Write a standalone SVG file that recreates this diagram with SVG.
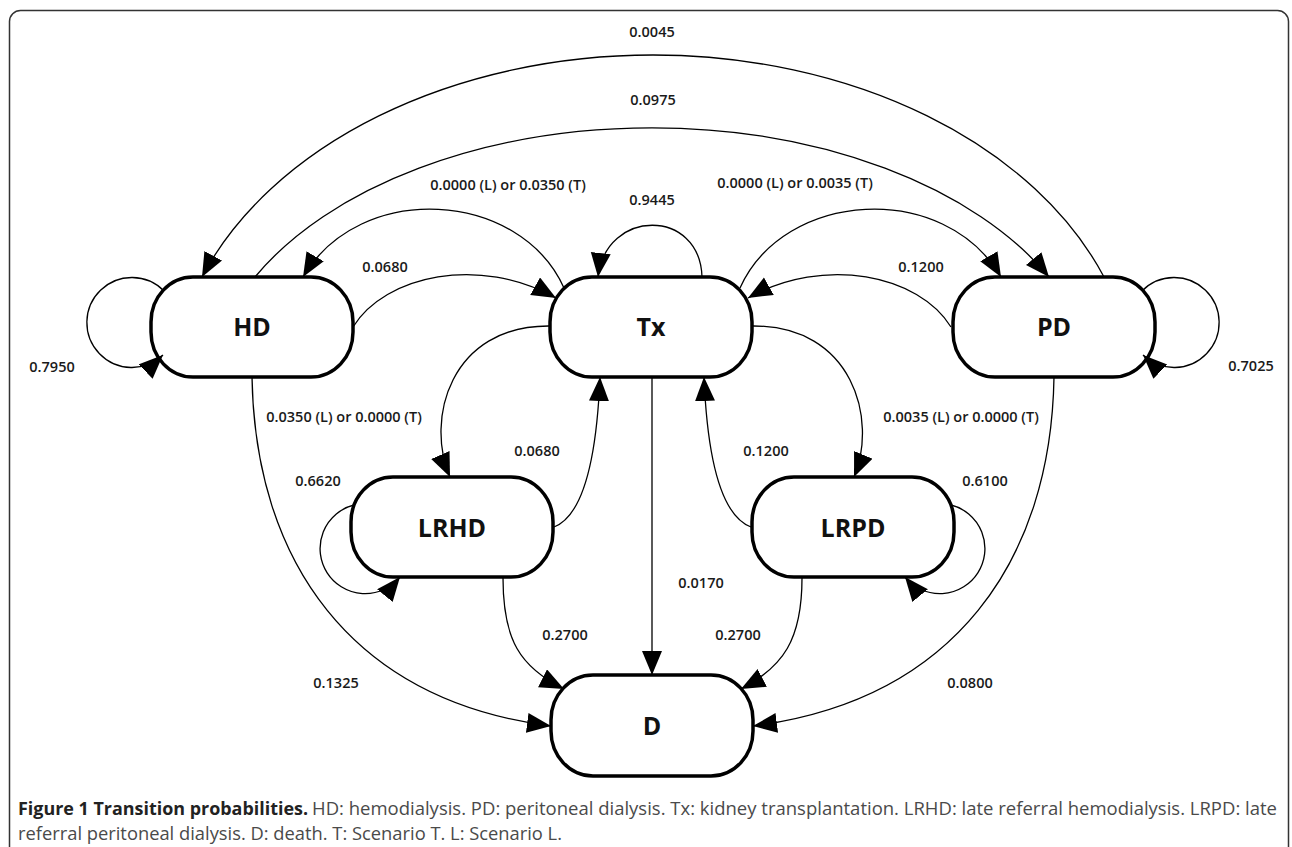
<svg xmlns="http://www.w3.org/2000/svg" width="1292" height="847" viewBox="0 0 1292 847">
<defs>
<marker id="ah" markerUnits="userSpaceOnUse" markerWidth="26" markerHeight="22" refX="24" refY="10" orient="auto"><path d="M0,0 L24,10 L0,20 z" fill="#000"/></marker>
</defs>
<style>
.node rect{fill:#fff;stroke:#000;stroke-width:3.5}
.node text{font-family:"Open Sans","Liberation Sans",sans-serif;font-weight:bold;font-size:25px;text-anchor:middle;fill:#111}
.edge{fill:none;stroke:#000;stroke-width:1.3;marker-end:url(#ah)}
.lbl{font-family:"Open Sans","Liberation Sans",sans-serif;font-size:14.5px;font-weight:600;text-anchor:middle;fill:#1a1a1a}
.cap{font-family:"Open Sans","Liberation Sans",sans-serif;font-size:17.5px;fill:#4a4a4a}
.capb{font-weight:bold;fill:#222}
</style>
<rect x="9.5" y="10.5" width="1279" height="900" rx="11" fill="#fff" stroke="#333" stroke-width="1.5"/>

<g id="nodes">
<g id="HD" class="node"><rect x="151" y="277" width="202" height="100" rx="42" ry="45"/><text x="252" y="336">HD</text></g>
<g id="Tx" class="node"><rect x="550" y="277" width="202" height="100" rx="42" ry="45"/><text x="651" y="336">Tx</text></g>
<g id="PD" class="node"><rect x="953" y="277" width="202" height="100" rx="42" ry="45"/><text x="1054" y="336">PD</text></g>
<g id="LRHD" class="node"><rect x="351" y="477" width="202" height="100" rx="42" ry="45"/><text x="452" y="536.5">LRHD</text></g>
<g id="LRPD" class="node"><rect x="752" y="477" width="202" height="100" rx="42" ry="45"/><text x="853" y="536.5">LRPD</text></g>
<g id="D" class="node"><rect x="551" y="675" width="202" height="101" rx="42" ry="45"/><text x="652" y="734.5">D</text></g>
</g>

<g id="connectors">
<path class="edge" d="M1104,277 A482 343 0 0 0 202,277"/>
<path class="edge" d="M255,277 A445 272 0 0 1 1049,277"/>
<path class="edge" d="M564,288 C520,190 360,180 303,277"/>
<path class="edge" d="M353,327 C385,275 480,255 556,298"/>
<path class="edge" d="M702,277 C700,208 606,208 598,277"/>
<path class="edge" d="M740,288 C784,190 944,180 1001,277"/>
<path class="edge" d="M951,327 C919,275 824,255 748,298"/>
<path class="edge" d="M164,291 A45 45 0 1 0 163,355"/>
<path class="edge" d="M1142,291 A45 45 0 1 1 1143,355"/>
<path class="edge" d="M550,326 C450,325 425,420 450,477"/>
<path class="edge" d="M554,527 C585,515 597,450 600,377"/>
<path class="edge" d="M752,326 C853,325 878,420 854,477"/>
<path class="edge" d="M751,527 C719,515 707,450 704,377"/>
<path class="edge" d="M354,505 A45 45 0 1 0 400,577"/>
<path class="edge" d="M951,505 A45 45 0 1 1 905,577"/>
<path class="edge" d="M652,377 L652,675"/>
<path class="edge" d="M503,578 C503,640 520,667 564,689"/>
<path class="edge" d="M802,578 C802,640 783,667 741,689"/>
<path class="edge" d="M252,377 C255,560 350,700 551,726"/>
<path class="edge" d="M1054,377 C1051,560 955,700 753,726"/>
</g>

<g id="labels">
<text class="lbl" x="652" y="37">0.0045</text>
<text class="lbl" x="653" y="105">0.0975</text>
<text class="lbl" x="508" y="190">0.0000 (L) or 0.0350 (T)</text>
<text class="lbl" x="795" y="188">0.0000 (L) or 0.0035 (T)</text>
<text class="lbl" x="652" y="205">0.9445</text>
<text class="lbl" x="385" y="272">0.0680</text>
<text class="lbl" x="921" y="272">0.1200</text>
<text class="lbl" x="52" y="372">0.7950</text>
<text class="lbl" x="1251" y="371">0.7025</text>
<text class="lbl" x="344" y="422">0.0350 (L) or 0.0000 (T)</text>
<text class="lbl" x="961" y="422">0.0035 (L) or 0.0000 (T)</text>
<text class="lbl" x="537" y="456">0.0680</text>
<text class="lbl" x="766" y="456">0.1200</text>
<text class="lbl" x="318" y="486">0.6620</text>
<text class="lbl" x="985" y="486">0.6100</text>
<text class="lbl" x="701" y="588">0.0170</text>
<text class="lbl" x="565" y="640">0.2700</text>
<text class="lbl" x="738" y="640">0.2700</text>
<text class="lbl" x="336" y="688">0.1325</text>
<text class="lbl" x="970" y="688">0.0800</text>
</g>

<g id="caption">
<text class="cap capb" x="18" y="815" textLength="290" lengthAdjust="spacingAndGlyphs">Figure 1 Transition probabilities.</text>
<text class="cap" x="312" y="815" textLength="965" lengthAdjust="spacingAndGlyphs">HD: hemodialysis. PD: peritoneal dialysis. Tx: kidney transplantation. LRHD: late referral hemodialysis. LRPD: late</text>
<text class="cap" x="18" y="840" textLength="544" lengthAdjust="spacingAndGlyphs">referral peritoneal dialysis. D: death. T: Scenario T. L: Scenario L.</text>
</g>
</svg>
